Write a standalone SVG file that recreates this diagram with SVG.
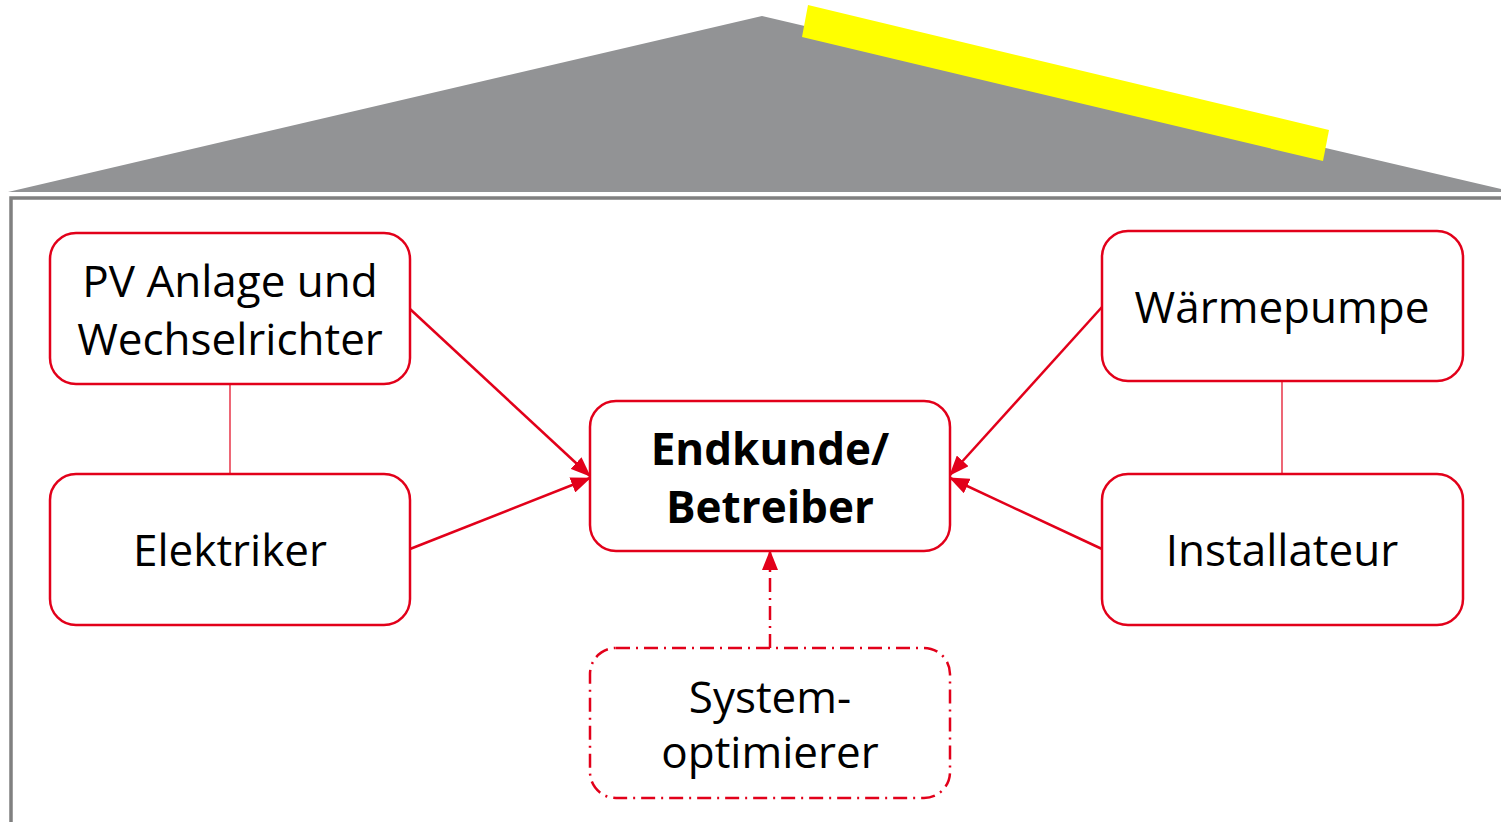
<svg xmlns="http://www.w3.org/2000/svg" width="1501" height="822" viewBox="0 0 1501 822">
<defs>
<style>
.box{fill:#fff;stroke:#e2001a;stroke-width:2.5}
.dd{fill:#fff;stroke:#e2001a;stroke-width:2.5;stroke-dasharray:14 6 2 6}
.t{font-family:"Open Sans","Noto Sans",sans-serif;font-size:44px;fill:#000;text-anchor:middle}
.b{font-weight:bold}
.c{stroke:#e2001a;stroke-width:2.5;fill:none}
.thin{stroke:#e2001a;stroke-width:1.2;fill:none}
</style>
<marker id="ah" markerUnits="userSpaceOnUse" markerWidth="20" markerHeight="16" refX="19" refY="8" orient="auto">
<path d="M0,0 L20,8 L0,16 Z" fill="#e2001a"/>
</marker>
</defs>
<rect width="1501" height="822" fill="#fff"/>
<g id="house">
<polygon points="8,192 762,16 1501,189 1501,192" fill="#929395"/>
<polygon points="808,5 1329,130 1323,161 802,37" fill="#ffff00"/>
<path d="M11,822 V198 H1501" fill="none" stroke="#808080" stroke-width="3.5"/>
</g>
<g id="connectors">
<line class="thin" x1="230" y1="384" x2="230" y2="474"/>
<line class="thin" x1="1282" y1="381" x2="1282" y2="474"/>
<line class="c" x1="410" y1="309" x2="590" y2="476" marker-end="url(#ah)"/>
<line class="c" x1="410" y1="549" x2="590" y2="478" marker-end="url(#ah)"/>
<line class="c" x1="1102" y1="307" x2="950" y2="475" marker-end="url(#ah)"/>
<line class="c" x1="1102" y1="549" x2="950" y2="478" marker-end="url(#ah)"/>
<line class="c" x1="770" y1="648" x2="770" y2="551" stroke-dasharray="14 6 2 6" marker-end="url(#ah)"/>
</g>
<g id="pv">
<rect class="box" x="50" y="233" width="360" height="151" rx="26"/>
<text class="t" x="230" y="297">PV Anlage und</text>
<text class="t" x="230" y="355">Wechselrichter</text>
</g>
<g id="elektriker">
<rect class="box" x="50" y="474" width="360" height="151" rx="26"/>
<text class="t" x="230" y="566">Elektriker</text>
</g>
<g id="endkunde">
<rect class="box" x="590" y="401" width="360" height="150" rx="26"/>
<text class="t b" x="770" y="465">Endkunde/</text>
<text class="t b" x="770" y="523">Betreiber</text>
</g>
<g id="waermepumpe">
<rect class="box" x="1102" y="231" width="361" height="150" rx="26"/>
<text class="t" x="1282" y="323">Wärmepumpe</text>
</g>
<g id="installateur">
<rect class="box" x="1102" y="474" width="361" height="151" rx="26"/>
<text class="t" x="1282" y="566">Installateur</text>
</g>
<g id="systemoptimierer">
<rect class="dd" x="590" y="648" width="360" height="150" rx="26"/>
<text class="t" x="770" y="713">System-</text>
<text class="t" x="770" y="768">optimierer</text>
</g>
</svg>
